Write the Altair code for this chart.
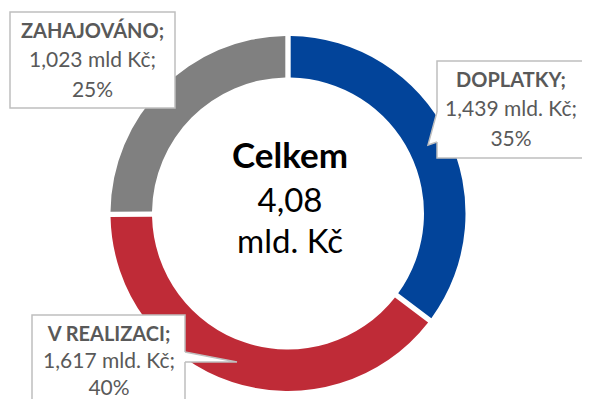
import altair as alt
import pandas as pd

# ---- data ----
categories = ["DOPLATKY", "V REALIZACI", "ZAHAJOVÁNO"]
values = [1.439, 1.617, 1.023]
value_labels = ["1,439 mld. Kč;", "1,617 mld. Kč;", "1,023 mld Kč;"]
pct_labels = ["35%", "40%", "25%"]
colors = ["#02449A", "#BF2B37", "#808080"]
center_lines = ["Celkem", "4,08", "mld. Kč"]

# ---- layout (chart pixel coordinates) ----
W, H = 574, 391
CX, CY = 280, 205.5
R_OUT, R_IN = 177.5, 136
FONT = "Lato"
LABEL_COLOR = "#595959"
BORDER = "#BFBFBF"

# callout boxes (x, x2, y, y2) per category
box_x = [429, 24, 2]
box_x2 = [610, 177, 167]
box_y = [53, 307, 4]
box_y2 = [150, 430, 100]
# text anchor (center x), line centers per category
txt_x = [503, 101, 84.5]
txt_y1 = [72.5, 326.5, 23.5]
line_gap = [29.5, 27.0, 29.5]
# pointer outlines (open polyline) and fills
ptr_lines = [
    "M429,104 L420,137 L429,134",
    "M177,344 L229,354 L177,354",
]
ptr_fills = [
    "M432,104 L429,104 L420,137 L429,134 L432,134 Z",
    "M174,344 L177,344 L229,354 L177,354 L174,354 Z",
]

df = pd.DataFrame({
    "category": categories,
    "value": values,
    "idx": list(range(len(categories))),
})

arc = alt.Chart(df).mark_arc(
    radius=R_OUT, radius2=R_IN, padAngle=0.024
).encode(
    theta=alt.Theta("value:Q", stack=True),
    color=alt.Color("category:N", scale=alt.Scale(domain=categories, range=colors), legend=None),
    order=alt.Order("idx:Q"),
    x=alt.value(CX),
    y=alt.value(CY),
)

boxes_df = pd.DataFrame({"x": box_x, "x2": box_x2, "y": box_y, "y2": box_y2})
boxes = alt.Chart(boxes_df).mark_rect(
    fill="white", stroke=BORDER, strokeWidth=1.5
).encode(
    x=alt.X("x:Q", scale=None), x2="x2:Q",
    y=alt.Y("y:Q", scale=None), y2="y2:Q",
)

ptr_fill_layers = [
    alt.Chart(pd.DataFrame({"a": [0]})).mark_point(
        shape=p, size=4, filled=True, fill="white", opacity=1, strokeWidth=0
    ).encode(x=alt.value(0), y=alt.value(0))
    for p in ptr_fills
]
ptr_line_layers = [
    alt.Chart(pd.DataFrame({"a": [0]})).mark_point(
        shape=p, size=4, filled=False, stroke=BORDER, strokeWidth=1.5, opacity=1
    ).encode(x=alt.value(0), y=alt.value(0))
    for p in ptr_lines
]

title_df = pd.DataFrame({
    "text": [c + ";" for c in categories],
    "x": txt_x,
    "y": txt_y1,
})
rest_df = pd.DataFrame({
    "text": value_labels + pct_labels,
    "x": txt_x + txt_x,
    "y": [y + g for y, g in zip(txt_y1, line_gap)] + [y + 2 * g for y, g in zip(txt_y1, line_gap)],
})

titles = alt.Chart(title_df).mark_text(
    font=FONT, fontSize=20, fontWeight="bold", color=LABEL_COLOR, align="center", baseline="middle"
).encode(x=alt.X("x:Q", scale=None), y=alt.Y("y:Q", scale=None), text="text:N")

rest = alt.Chart(rest_df).mark_text(
    font=FONT, fontSize=21, color=LABEL_COLOR, align="center", baseline="middle"
).encode(x=alt.X("x:Q", scale=None), y=alt.Y("y:Q", scale=None), text="text:N")

center_df = pd.DataFrame({
    "text": center_lines,
    "x": [CX + 2] * 3,
    "y": [149, 194, 235],
})
center_bold = alt.Chart(center_df.iloc[:1]).mark_text(
    font=FONT, fontSize=35, fontWeight="bold", color="black", baseline="middle"
).encode(x=alt.X("x:Q", scale=None), y=alt.Y("y:Q", scale=None), text="text:N")
center_rest = alt.Chart(center_df.iloc[1:]).mark_text(
    font=FONT, fontSize=33, color="black", baseline="middle"
).encode(x=alt.X("x:Q", scale=None), y=alt.Y("y:Q", scale=None), text="text:N")

chart = alt.layer(
    arc, boxes, *ptr_fill_layers, *ptr_line_layers, titles, rest, center_bold, center_rest
).properties(
    width=W, height=H, padding=0, autosize="none"
).configure_view(stroke=None)

chart.save("out.html", embed_options={"renderer": "svg", "actions": False})
